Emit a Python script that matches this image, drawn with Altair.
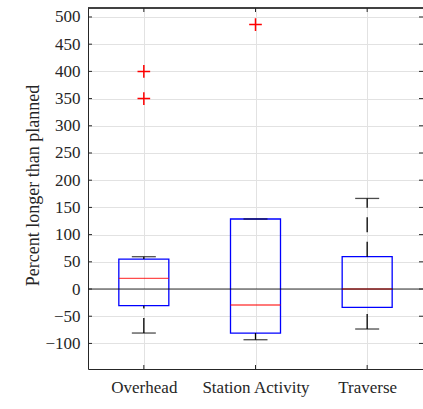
import altair as alt
import pandas as pd

# ---- data ----
categories = ["Overhead", "Station Activity", "Traverse"]
q1 = [-30.7, -80.9, -33.8]
median = [19.5, -29.4, 0.0]
q3 = [55.1, 128.7, 59.4]
whisker_low = [-80.9, -93.2, -73.5]
whisker_high = [59.4, 128.7, 166.5]
outlier_cat = ["Overhead", "Overhead", "Station Activity"]
outlier_val = [400, 350, 486]
y_ticks = [-100, -50, 0, 50, 100, 150, 200, 250, 300, 350, 400, 450, 500]
y_domain = [-147, 516.5]

W, H = 335, 361
FONT = "Liberation Serif"
AX = "#262626"
GRID = "#e2e2e2"

box_df = pd.DataFrame({"cat": categories, "q1": q1, "q3": q3, "med": median,
                       "wl": whisker_low, "wh": whisker_high})
out_df = pd.DataFrame({"cat": outlier_cat, "val": outlier_val})
tick_df = pd.DataFrame({"t": y_ticks})
cat_df = pd.DataFrame({"cat": categories})

xscale = alt.Scale(type="point", padding=0.5, domain=categories)
xaxis = alt.Axis(title=None, grid=True, gridColor=GRID, ticks=False, tickSize=0,
                 domain=True, domainColor=AX, labelFontSize=17,
                 labelColor=AX, labelPadding=10, labelAngle=0)
yscale = alt.Scale(domain=y_domain, nice=False, zero=False)
TITLE = "Percent longer than planned"
yaxis = alt.Axis(title=TITLE, values=y_ticks, grid=True, gridColor=GRID, ticks=False,
                 tickSize=0, domain=True, domainColor=AX,
                 labelFontSize=17, labelColor=AX, labelPadding=8,
                 titleFontSize=18, titleFontWeight="normal",
                 titleColor=AX, titleX=-55, titleY=177, titleAngle=-90,
                 titleBaseline="middle", titleAlign="center")


def X(field="cat"):
    return alt.X(f"{field}:N", scale=xscale, axis=xaxis, sort=categories)


def Y(field):
    return alt.Y(f"{field}:Q", scale=yscale, axis=yaxis)


base = alt.Chart(box_df)

boxes = base.mark_bar(size=50, fillOpacity=0, stroke="#0000ff", strokeWidth=1.3).encode(
    x=X(), y=Y("q1"), y2="q3:Q")

upper_whisker = base.mark_rule(color="black", strokeWidth=1.3, strokeDash=[15, 9.5]).encode(
    x=X(), y=Y("q3"), y2="wh:Q")
lower_whisker = base.mark_rule(color="black", strokeWidth=1.3, strokeDash=[15, 9.5]).encode(
    x=X(), y=Y("wl"), y2="q1:Q")

cap_hi = base.mark_tick(size=24, thickness=1.3, color="black").encode(x=X(), y=Y("wh"))
cap_lo = base.mark_tick(size=24, thickness=1.3, color="black").encode(x=X(), y=Y("wl"))

medians = base.mark_tick(size=50, thickness=1.4, color="#ff0000").encode(x=X(), y=Y("med"))

zero_line = alt.Chart(pd.DataFrame({"z": [0]})).mark_rule(
    color="black", strokeWidth=1.2, opacity=0.8).encode(
    y=Y("z"), x=alt.value(0), x2=alt.value(W))

outliers = alt.Chart(out_df).mark_point(
    shape="M-1,0L1,0M0,-1L0,1", size=160, filled=False, color="#ff0000",
    strokeWidth=1.5, opacity=1).encode(x=X(), y=Y("val"))

# inward MATLAB-style ticks and top border
left_ticks = alt.Chart(tick_df).mark_rule(color=AX, strokeWidth=1).encode(
    y=Y("t"), x=alt.value(0), x2=alt.value(4))
right_ticks = alt.Chart(tick_df).mark_rule(color=AX, strokeWidth=1).encode(
    y=Y("t"), x=alt.value(W - 4), x2=alt.value(W))
top_ticks = alt.Chart(cat_df).mark_rule(color=AX, strokeWidth=1).encode(
    x=X(), y=alt.value(0), y2=alt.value(4))
bottom_ticks = alt.Chart(cat_df).mark_rule(color=AX, strokeWidth=1).encode(
    x=X(), y=alt.value(H - 4), y2=alt.value(H))
top_border = alt.Chart(cat_df).mark_rule(color=AX, strokeWidth=1).encode(
    x=alt.value(0), x2=alt.value(W), y=alt.value(0))

chart = alt.layer(
    boxes, upper_whisker, lower_whisker, cap_hi, cap_lo, medians, zero_line,
    outliers, left_ticks, right_ticks, top_ticks, bottom_ticks, top_border
).properties(
    width=W, height=H,
    autosize=alt.AutoSizeParams(type="none"),
    padding={"left": 88, "top": 8, "right": 0, "bottom": 40},
    background="white",
).configure(
    font=FONT
).configure_axis(
    labelFont=FONT, titleFont=FONT
).configure_view(stroke=None)

chart.save("out.html", embed_options={"renderer": "svg", "actions": False})
